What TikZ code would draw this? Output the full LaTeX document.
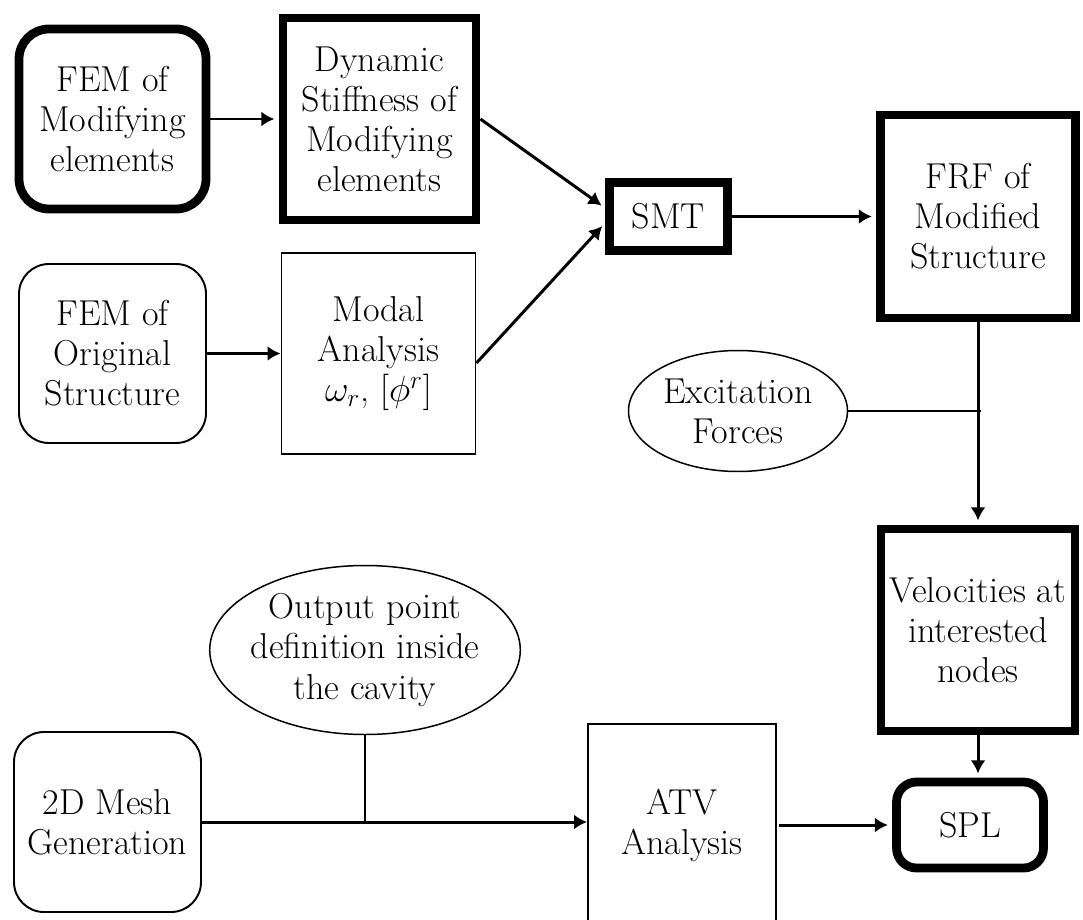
\documentclass[tikz,border=0pt]{standalone}
\usepackage{fontspec}
\usepackage{amsmath}
\usepackage{tikz}
\usetikzlibrary{shapes,arrows,arrows.meta,positioning}
\tikzset{
heavy/.style = {draw, fill=white, rectangle, line width=5pt, align=center},
plain/.style = {draw, fill=white, rectangle, line width=1.1pt, align=center},
heavyround/.style = {heavy, rounded corners=0.6cm},
plainround/.style = {plain, rounded corners=0.6cm},
oval/.style = {draw, fill=white, ellipse, line width=0.85pt, align=center, inner sep=0pt},
flow/.style = {->, line width=1.7pt},
hflow/.style = {flow, shorten >=2.4pt},
link/.style = {line width=1.1pt},
tmp/.style = {coordinate}
}

\begin{document}
\begin{tikzpicture}[auto, node distance=2cm, >={Latex[length=7.4pt,width=8.5pt]},
    font=\fontsize{20.5}{22.8}\selectfont]
    \useasboundingbox (0,0) rectangle (21.66,-18.4);
    \clip (0,0) rectangle (21.66,-18.4);
    % upper branch
    \node [heavyround, minimum width=3.74cm, minimum height=3.6cm] (femmod) at (2.25,-2.38) {FEM of\\Modifying\\elements};
    \node [heavy, right of=femmod, node distance=5.34cm, minimum width=3.86cm, minimum height=4.04cm] (dyn) {Dynamic\\Stiffness of\\Modifying\\elements};
    \node [plainround, below of=femmod, node distance=4.69cm, minimum width=3.74cm, minimum height=3.58cm] (femorig) {FEM of\\Original\\Structure};
    \node [plain, right of=femorig, node distance=5.32cm, minimum width=3.88cm, minimum height=4.02cm] (modal) {Modal\\Analysis\\$\omega_r$, $[\phi^r]$};
    \node [heavy, minimum width=2.36cm, minimum height=1.36cm] (smt) at (13.37,-4.33) {SMT};
    \node [heavy, right of=smt, node distance=6.19cm, minimum width=3.9cm, minimum height=4.06cm] (frf) {FRF of\\Modified\\Structure};
    \node [oval, minimum width=4.38cm, minimum height=2.42cm] (excit) at (14.76,-8.22) {Excitation\\Forces};
    \node [heavy, below of=frf, node distance=8.27cm, minimum width=3.88cm, minimum height=4.04cm] (vel) {Velocities at\\interested\\nodes};
    % lower branch
    \node [plainround, minimum width=3.74cm, minimum height=3.6cm] (mesh) at (2.15,-16.44) {2D Mesh\\Generation};
    \node [oval, inner xsep=-2.5pt, minimum width=6.2cm, minimum height=3.38cm] (outpt) at (7.3,-13.0) {Output point\\definition inside\\the cavity};
    \node [plain, minimum width=3.76cm, minimum height=4.04cm] (atv) at (13.64,-16.5) {ATV\\Analysis};
    \node [heavyround, rounded corners=0.4cm, right of=atv, node distance=5.76cm, minimum width=2.94cm, minimum height=1.72cm] (spl) {SPL};

    \draw [hflow] (femmod) -- (dyn);
    \draw [hflow] (dyn.east) -- ([yshift=0.17cm]smt.west);
    \draw [hflow] ([yshift=-0.19cm]modal.east) -- ([yshift=-0.13cm]smt.west);
    \draw [hflow] (smt) -- (frf);
    \draw [flow] (femorig) -- (modal);
    \draw [hflow] (frf.south) -- (frf.south |- vel.north);
    \node [tmp] (joint) at (frf.south |- excit.east) {};
    \draw [link] (excit.east) -- ([xshift=0.06cm]joint);
    \draw [hflow] (vel.south) -- (vel.south |- spl.north);
    \draw [flow] (mesh.east) -- (mesh.east -| atv.west);
    \draw [link] (outpt.south) -- (outpt.south |- mesh.east);
    \draw [hflow] ([xshift=0.04cm]atv.east) -- (spl.west);
\end{tikzpicture}
\end{document}
